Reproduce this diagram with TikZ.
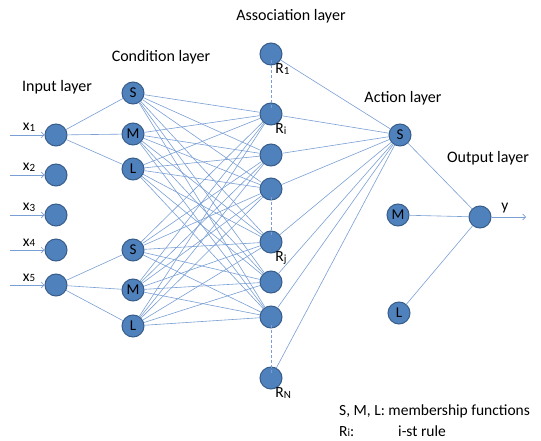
\documentclass[tikz,border=0pt]{standalone}
\usepackage{fontspec}
\setmainfont{Carlito}
\usetikzlibrary{arrows.meta}
\definecolor{nfill}{HTML}{4F81BD}
\definecolor{ndraw}{HTML}{385D8A}
\definecolor{lnk}{HTML}{7A9FD4}
\begin{document}
\begin{tikzpicture}[x=1pt,y=-1pt,
  neuron/.style={circle,fill=nfill,draw=ndraw,line width=1pt,minimum size=22pt,inner sep=0pt,font=\fontsize{15}{15}\selectfont},
  lk/.style={draw=lnk,line width=0.6pt},
  lay/.style={font=\fontsize{16}{16}\selectfont,anchor=base},
  sub/.style={font=\fontsize{15.5}{15.5}\selectfont},
  dots/.style={draw=lnk,line width=1pt,dash pattern=on 3pt off 2pt}]
\useasboundingbox (0,0) rectangle (541,441);
% labels
\node[lay] (tIn) at (57,92) {Input layer};
\node[lay] (tCo) at (161,62) {Condition layer};
\node[lay] (tAs) at (291,21) {Association layer};
\node[lay] (tAc) at (403,103) {Action layer};
\node[lay] (tOu) at (488,163) {Output layer};
% input
\foreach \i/\y in {1/135,2/175,3/215,4/250,5/285}{
  \node[neuron] (x\i) at (56,\y) {};
  \coordinate (s\i) at (10,\y);
  \draw[lk,-{Straight Barb[length=3pt,width=6pt]}] (s\i) -- (x\i);
  \node[sub,anchor=base] (lx\i) at (29,\y-4) {x\raisebox{-0.1ex}{\fontsize{11}{11}\selectfont\i}};
}
% condition
\node[neuron] (c1) at (133,93) {S};
\node[neuron] (c2) at (133,134) {M};
\node[neuron] (c3) at (133,169) {L};
\node[neuron] (c4) at (133,250) {S};
\node[neuron] (c5) at (133,290) {M};
\node[neuron] (c6) at (133,326) {L};
% association
\node[neuron] (r1) at (271,54) {};
\node[neuron] (a1) at (271,114) {};
\node[neuron] (a2) at (271,155) {};
\node[neuron] (a3) at (271,189) {};
\node[neuron] (a4) at (271,242) {};
\node[neuron] (a5) at (271,282) {};
\node[neuron] (a6) at (271,317) {};
\node[neuron] (rN) at (271,378) {};
% action
\node[neuron] (s) at (400,135) {S};
\node[neuron] (m) at (398,215) {M};
\node[neuron] (l) at (399,313) {L};
% output
\node[neuron] (o) at (480,217) {};
\coordinate (oe) at (526,217);
% links
\foreach \c in {1,2,3}{\draw[lk] (x1) -- (c\c);}
\foreach \c in {4,5,6}{\draw[lk] (x5) -- (c\c);}
\foreach \c in {1,...,6}{\foreach \a in {1,...,6}{\draw[lk] (c\c) -- (a\a);}}
\foreach \a in {r1,a1,a2,a3,a4,a5,a6,rN}{\draw[lk] (\a) -- (s);}
\draw[lk] (s) -- (o);
\draw[lk] (m) -- (o);
\draw[lk] (l) -- (o);
\draw[lk,-{Straight Barb[length=3pt,width=6pt]}] (o) -- (oe);
\node[sub,anchor=base] (ly) at (505,210) {y};
% dots
\draw[dots] ([yshift=5pt]r1.south) -- ([yshift=-6pt]a1.north);
\draw[dots] ([yshift=4pt]a3.south) -- ([yshift=-6pt]a4.north);
\draw[dots] ([yshift=4pt]a6.south) -- ([yshift=-6pt]rN.north);
\foreach \n/\t in {r1/1,a1/i,a4/j,rN/N}{
  \node[sub,anchor=north west,inner sep=0pt] (L\n) at ([xshift=-4pt,yshift=-1pt]\n.south east) {R\raisebox{-0.1ex}{\fontsize{11}{11}\selectfont\t}};
}
% legend
\node[sub,anchor=base west,inner sep=0pt] (leg1) at (339,415) {S, M, L:\ membership functions};
\node[sub,anchor=base west,inner sep=0pt] (leg2) at (339,436) {R\raisebox{-0.1ex}{\fontsize{11}{11}\selectfont i}:};
\node[sub,anchor=base west,inner sep=0pt] (leg3) at (398,436) {i-st rule};
\end{tikzpicture}
\end{document}
